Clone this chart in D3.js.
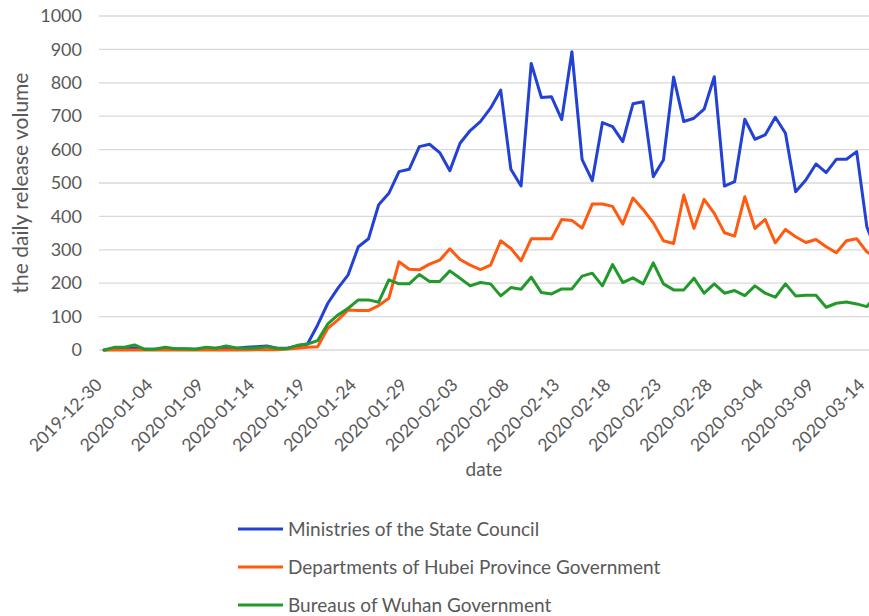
<!DOCTYPE html>
<html>
<head>
<meta charset="utf-8">
<script src="https://cdn.jsdelivr.net/npm/d3@7"></script>
<style>
  html, body { margin: 0; padding: 0; background: #ffffff; }
  svg { display: block; }
  text { font-family: "Lato", "Liberation Sans", sans-serif; fill: #595959; }
</style>
</head>
<body>
<svg id="chart" width="869" height="616"></svg>
<script>
const dates = [
  "2019-12-30","2019-12-31","2020-01-01","2020-01-02","2020-01-03","2020-01-04","2020-01-05","2020-01-06",
  "2020-01-07","2020-01-08","2020-01-09","2020-01-10","2020-01-11","2020-01-12","2020-01-13","2020-01-14",
  "2020-01-15","2020-01-16","2020-01-17","2020-01-18","2020-01-19","2020-01-20","2020-01-21","2020-01-22",
  "2020-01-23","2020-01-24","2020-01-25","2020-01-26","2020-01-27","2020-01-28","2020-01-29","2020-01-30",
  "2020-01-31","2020-02-01","2020-02-02","2020-02-03","2020-02-04","2020-02-05","2020-02-06","2020-02-07",
  "2020-02-08","2020-02-09","2020-02-10","2020-02-11","2020-02-12","2020-02-13","2020-02-14","2020-02-15",
  "2020-02-16","2020-02-17","2020-02-18","2020-02-19","2020-02-20","2020-02-21","2020-02-22","2020-02-23",
  "2020-02-24","2020-02-25","2020-02-26","2020-02-27","2020-02-28","2020-02-29","2020-03-01","2020-03-02",
  "2020-03-03","2020-03-04","2020-03-05","2020-03-06","2020-03-07","2020-03-08","2020-03-09","2020-03-10",
  "2020-03-11","2020-03-12","2020-03-13","2020-03-14","2020-03-15"
];

const stateCouncil = [
  0,3,5,5,2,2,5,3,3,2,5,5,8,5,8,10,12,5,5,12,18,75,140,185,
  225,309,333,435,469,534,541,609,616,591,537,619,657,684,724,778,
  541,491,858,756,758,690,893,571,507,681,669,624,737,743,519,569,
  817,684,694,721,818,491,504,691,631,644,697,649,474,509,557,531,
  571,571,594,369,290
];

const hubei = [
  0,0,0,0,0,0,0,0,0,0,0,0,0,0,0,1,1,1,3,5,8,10,65,90,
  120,118,118,133,155,264,242,240,257,269,303,271,254,241,254,327,
  304,267,333,333,333,391,388,365,437,437,430,377,455,421,381,327,
  319,464,364,451,409,351,341,459,364,391,321,361,339,322,331,309,
  291,327,333,294,275
];

const wuhan = [
  0,8,8,15,2,2,8,4,4,2,8,5,12,6,5,6,10,5,4,14,18,28,78,105,
  125,150,150,143,210,198,198,226,205,205,237,215,192,202,198,162,
  187,182,218,172,168,183,183,221,230,192,256,202,216,198,261,198,
  180,180,215,170,198,170,178,163,192,170,158,198,162,164,164,128,
  140,144,138,130,165
];

const tickLabels = [
  "2019-12-30","2020-01-04","2020-01-09","2020-01-14","2020-01-19","2020-01-24",
  "2020-01-29","2020-02-03","2020-02-08","2020-02-13","2020-02-18","2020-02-23",
  "2020-02-28","2020-03-04","2020-03-09","2020-03-14"
];
const yTicks = [0,100,200,300,400,500,600,700,800,900,1000];

const seriesNames = [
  "Ministries of the State Council",
  "Departments of Hubei Province Government",
  "Bureaus of Wuhan Government"
];
const seriesColors = ["#2342d4", "#ff5a0f", "#22992a"];
const seriesValues = [stateCouncil, hubei, wuhan];

const svg = d3.select("#chart");
const plotLeft = 99, plotTop = 16, plotBottom = 350;
const step = 10.17;

const x = d3.scaleBand().domain(dates).range([plotLeft, plotLeft + dates.length * step]).padding(0);
const y = d3.scaleLinear().domain([0, 1000]).range([plotBottom, plotTop]);
const cx = d => x(d) + x.bandwidth() / 2;

// gridlines
svg.append("g")
  .selectAll("line")
  .data(yTicks)
  .join("line")
  .attr("x1", plotLeft).attr("x2", plotLeft + dates.length * step)
  .attr("y1", d => y(d)).attr("y2", d => y(d))
  .attr("stroke", "#d9d9d9").attr("stroke-width", 1.3);

// y axis
const yAxis = svg.append("g")
  .attr("transform", `translate(${plotLeft},0)`)
  .call(d3.axisLeft(y).tickValues(yTicks).tickFormat(d3.format("d")).tickSize(0).tickPadding(17));
yAxis.select(".domain").remove();
yAxis.selectAll("text")
  .style("font-family", "Lato, sans-serif")
  .style("font-size", "18px")
  .attr("fill", "#595959");

// x axis
const xAxis = svg.append("g")
  .attr("transform", `translate(0,${plotBottom})`)
  .call(d3.axisBottom(x).tickValues(tickLabels).tickSize(0));
xAxis.select(".domain").remove();
xAxis.selectAll("text")
  .style("font-family", "Lato, sans-serif")
  .style("font-size", "17.5px")
  .attr("fill", "#595959")
  .attr("text-anchor", "end")
  .attr("dy", "0")
  .attr("y", 0)
  .attr("transform", "translate(-1,36) rotate(-45)");

// lines
const line = d3.line()
  .x((d, i) => cx(dates[i]))
  .y(d => y(d));

svg.append("g")
  .selectAll("path")
  .data(seriesValues)
  .join("path")
  .attr("d", d => line(d))
  .attr("fill", "none")
  .attr("stroke", (d, i) => seriesColors[i])
  .attr("stroke-width", 3)
  .attr("stroke-linejoin", "round")
  .attr("stroke-linecap", "round");

// axis titles
svg.append("text")
  .attr("x", 484).attr("y", 476)
  .attr("text-anchor", "middle")
  .style("font-size", "19px")
  .text("date");

svg.append("text")
  .attr("transform", "translate(28,183) rotate(-90)")
  .attr("text-anchor", "middle")
  .style("font-size", "21px")
  .text("the daily release volume");

// legend
const legendY = [529, 567, 605];
const lg = svg.append("g")
  .selectAll("g")
  .data(seriesNames)
  .join("g")
  .attr("transform", (d, i) => `translate(0,${legendY[i]})`);
lg.append("line")
  .attr("x1", 238).attr("x2", 283)
  .attr("y1", 0).attr("y2", 0)
  .attr("stroke", (d, i) => seriesColors[i])
  .attr("stroke-width", 3);
lg.append("text")
  .attr("x", 288).attr("y", 0)
  .attr("dy", "0.35em")
  .style("font-size", "19px")
  .text(d => d);
</script>
</body>
</html>
